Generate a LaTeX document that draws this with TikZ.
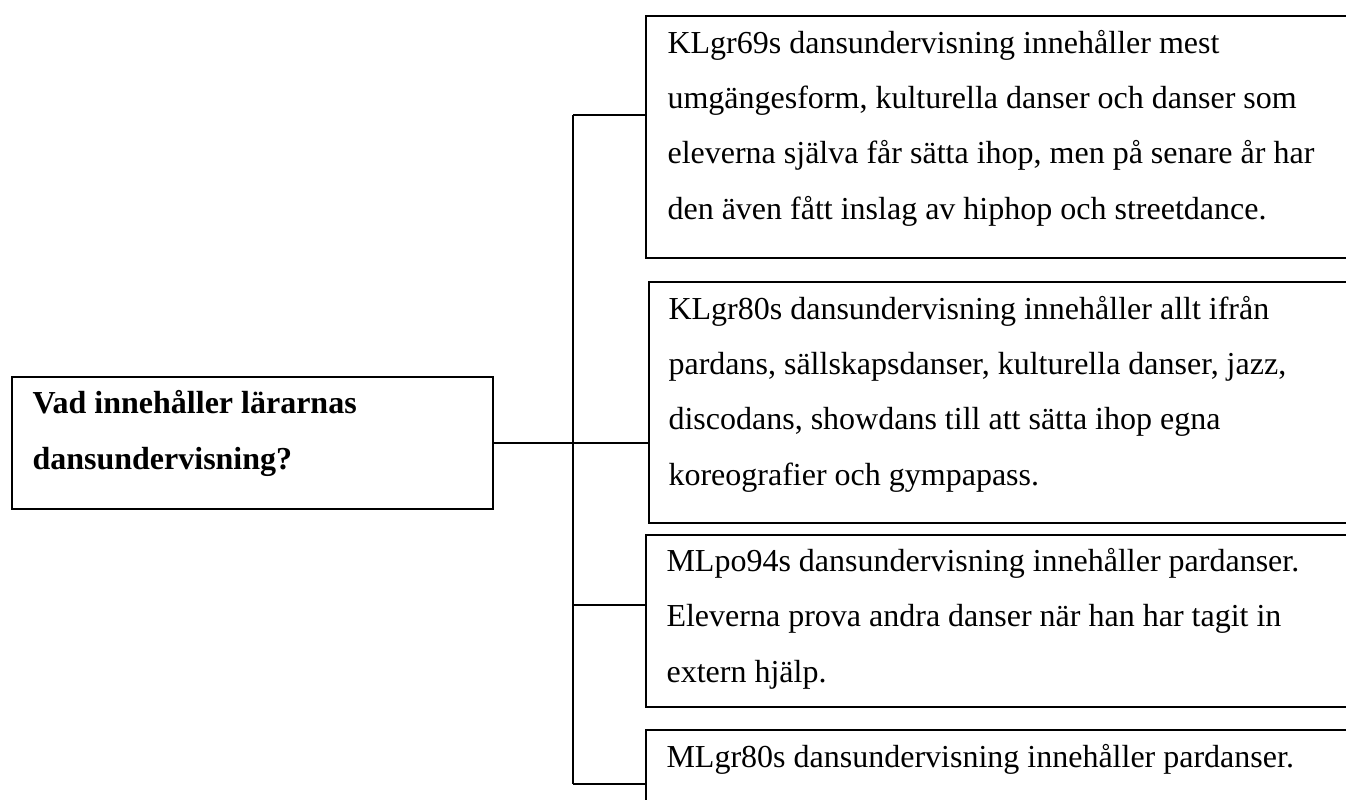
\documentclass[tikz,border=0pt]{standalone}
\usepackage{fontspec}
\setmainfont{Liberation Serif}
\tikzset{
  box/.style={draw, line width=0.75pt, anchor=north west, inner sep=0pt},
  txt/.style={anchor=base west, inner sep=0pt, align=left, font=\fontsize{12}{20.7}\selectfont},
  link/.style={line width=0.6pt}
}

\begin{document}
\begin{tikzpicture}[x=0.375pt, y=-0.375pt]
    \useasboundingbox (0,0) rectangle (1346,799);

    % ------------------ Question ------------------
    % (text nodes sit on the baseline of their last line)
    \node[box, minimum width=180.4pt, minimum height=49.5pt] (root) at (11,376) {};
    \node[txt, font=\fontsize{12}{20.7}\selectfont\bfseries] (qtext) at (32,469) {Vad innehåller lärarnas\\dansundervisning?};

    % ------------------ Answers ------------------
    \node[box, minimum width=268pt, minimum height=90.75pt] (b1) at (645,15) {};
    \node[txt] (t1) at (667,219) {KLgr69s dansundervisning innehåller mest\\umgängesform, kulturella danser och danser som\\eleverna själva får sätta ihop, men på senare år har\\den även fått inslag av hiphop och streetdance.};

    \node[box, minimum width=267pt, minimum height=90.4pt] (b2) at (648,281) {};
    \node[txt] (t2) at (668,485) {KLgr80s dansundervisning innehåller allt ifrån\\pardans, sällskapsdanser, kulturella danser, jazz,\\discodans, showdans till att sätta ihop egna\\koreografier och gympapass.};

    \node[box, minimum width=268pt, minimum height=64.5pt] (b3) at (645,534) {};
    \node[txt] (t3) at (666,682) {MLpo94s dansundervisning innehåller pardanser.\\Eleverna prova andra danser när han har tagit in\\extern hjälp.};

    \node[box, minimum width=268pt, minimum height=40pt] (b4) at (645,729) {};
    \node[txt] (t4) at (666,767) {MLgr80s dansundervisning innehåller pardanser.};

    % ------------------ Connectors ------------------
    \coordinate (jtop) at (573,115);
    \coordinate (jmid) at (573,605);
    \coordinate (jbot) at (573,784);

    \draw[link] (root.east) -- (root.east -| b2.west);
    \draw[link] (jtop) -- (jbot);
    \draw[link] (jtop) -- (jtop -| b1.west);
    \draw[link] (jmid) -- (jmid -| b3.west);
    \draw[link] (jbot) -- (jbot -| b4.west);

\end{tikzpicture}
\end{document}
